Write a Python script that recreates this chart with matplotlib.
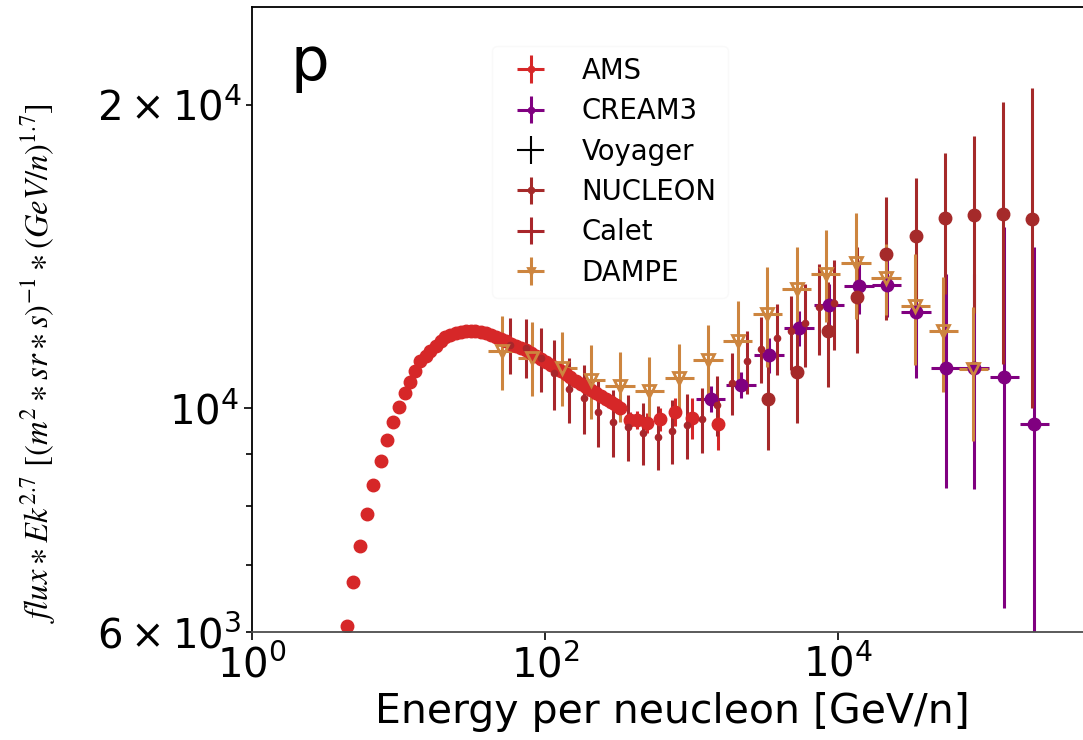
import matplotlib
matplotlib.use("Agg")
import matplotlib.pyplot as plt
from matplotlib.ticker import FixedLocator, FixedFormatter, NullLocator
import numpy as np

# values (energy in GeV/n, flux * Ek^2.7)
ams_e = [4.43, 4.91, 5.46, 6.07, 6.73, 7.56, 8.35, 9.13, 10.1, 11.0, 12.0, 13.0,
         14.1, 15.3, 16.5, 17.9, 19.4, 20.9, 22.6, 24.5, 26.5, 28.7,
         31.0, 33.5, 36.3, 39.3, 42.5, 45.9, 49.7, 53.8, 58.1, 62.9,
         68.0, 73.6, 79.6, 86.1, 93.2, 101, 109, 118, 128, 138,
         149, 162, 175, 189, 205, 221, 239, 259, 280, 303, 325,
         380, 423, 499, 610, 772, 1003, 1517]
ams_f = [6088, 6721, 7295, 7853, 8386, 8862, 9311, 9693, 10023, 10364, 10627, 10897,
         11136, 11266, 11400, 11523, 11649, 11756, 11831, 11877, 11910, 11929,
         11937, 11934, 11907, 11874, 11820, 11766, 11710, 11651, 11582, 11523,
         11482, 11426, 11346, 11271, 11200, 11118, 11037, 10962, 10885, 10808,
         10732, 10654, 10579, 10505, 10428, 10355, 10280, 10205, 10140, 10078, 10000,
         9737, 9745, 9679, 9752, 9920, 9790, 9642]
ams_err = [70, 70, 70, 75, 75, 80, 80, 85, 90, 90, 95, 95,
           100, 100, 100, 105, 105, 105, 110, 110, 110, 110,
           115, 115, 115, 115, 115, 120, 120, 120, 120, 120,
           120, 125, 125, 125, 125, 125, 130, 130, 130, 130,
           135, 135, 140, 140, 145, 150, 150, 155, 160, 165, 170,
           180, 200, 220, 260, 320, 460, 540]

cream_e = [1352, 2177, 3381, 5417, 8681, 13910, 21490, 34060, 54330, 84760, 135900, 217800]
cream_f = [10221, 10553, 11289, 12001, 12647, 13207, 13252, 12446, 10962, 10955, 10742, 9648]
cream_err = [310, 320, 450, 480, 630, 790, 930, 1740, 2630, 2630, 4400, 4820]

# Voyager points lie below 1 GeV/n, outside the plotted window
voyager_e = [0.01, 0.05, 0.2]
voyager_f = [20, 300, 2500]
voyager_err = [3, 30, 200]

nucleon_e = [3311, 5275, 8506, 13420, 21170, 33900, 53720, 85160, 132400, 211900]
nucleon_f = [10221, 10865, 11922, 12893, 14213, 14829, 15443, 15532, 15596, 15406]
nucleon_err = [1124, 1195, 1430, 1547, 1990, 2076, 2471, 3106, 4523, 5392]

calet_e = [58, 74, 94, 115, 146, 185, 231, 293, 370, 469, 593, 733, 927, 1170,
           1486, 1881, 2382, 2980, 3818, 4777, 5953, 7450, 9440]
calet_f = [11550, 11483, 11206, 10831, 10450, 10231, 9909, 9686, 9592, 9446, 9375,
           9496, 9620, 9752, 10069, 10594, 11136, 11455, 11741, 11922, 12139, 12600, 12725]
calet_err = [740, 770, 820, 860, 780, 800, 760, 730, 720, 670, 680, 690, 720, 720,
             690, 740, 800, 870, 960, 1010, 1150, 1300, 1310]

dampe_e = [51.1, 81.9, 131.3, 205, 325, 515, 826, 1291, 2067, 3290, 5226, 8241,
           13210, 21170, 33560, 52340, 83900]
dampe_f = [11394, 11225, 10971, 10666, 10531, 10402, 10708, 11164, 11659, 12397,
           13144, 13603, 13939, 13469, 12620, 11944, 10938]
dampe_err = [957, 943, 922, 896, 842, 843, 867, 938, 1131, 1413, 1301, 1415,
             1687, 1091, 1590, 1565, 1652]

half_bin = 0.1  # half width of the CREAM3 / DAMPE energy bins, in decades


def bin_xerr(e, half):
    e = np.asarray(e, dtype=float)
    return [e * (1 - 10 ** -half), e * (10 ** half - 1)]


fig = plt.figure(figsize=(10.83, 7.40), dpi=100)
ax = fig.add_axes([0.2327, 0.1459, 0.7756, 0.8446])

common = dict(linestyle="none", elinewidth=2.2, capsize=0)

ax.errorbar(ams_e, ams_f, yerr=ams_err, xerr=np.zeros(len(ams_e)), fmt="o",
            color="#d62728", ms=9, label="AMS", **common)
ax.errorbar(cream_e, cream_f, yerr=cream_err, xerr=bin_xerr(cream_e, half_bin), fmt="o",
            color="purple", ms=9, label="CREAM3", **common)
ax.errorbar(voyager_e, voyager_f, yerr=voyager_err, xerr=np.zeros(len(voyager_e)),
            fmt="none", ecolor="black", label="Voyager", elinewidth=1.5, capsize=0)
ax.errorbar(nucleon_e, nucleon_f, yerr=nucleon_err, xerr=np.zeros(len(nucleon_e)), fmt="o",
            color="brown", ms=9, label="NUCLEON", **common)
ax.errorbar(calet_e, calet_f, yerr=calet_err, xerr=np.zeros(len(calet_e)), fmt="o",
            color="#a8262b", ms=4.5, label="Calet", **common)
ax.errorbar(dampe_e, dampe_f, yerr=dampe_err, xerr=bin_xerr(dampe_e, half_bin), fmt="v",
            color="peru", mfc="none", mew=2, ms=9, label="DAMPE", **common)

ax.set_xscale("log")
ax.set_yscale("log")
ax.set_xlim(1, 5.4e5)
ax.set_ylim(6000, 25000)

ax.xaxis.set_major_locator(FixedLocator([1, 1e2, 1e4, 1e6]))
ax.xaxis.set_major_formatter(FixedFormatter([r"$10^{0}$", r"$10^{2}$", r"$10^{4}$", r"$10^{6}$"]))
ax.xaxis.set_minor_locator(NullLocator())
ax.yaxis.set_major_locator(FixedLocator([1e4]))
ax.yaxis.set_major_formatter(FixedFormatter([r"$10^{4}$"]))
ax.yaxis.set_minor_locator(FixedLocator([6000, 7000, 8000, 9000, 20000]))
ax.yaxis.set_minor_formatter(FixedFormatter([r"$6\times10^{3}$", "", "", "", r"$2\times10^{4}$"]))

ax.tick_params(which="both", labelsize=29, width=1.2)
ax.tick_params(which="major", length=6)
ax.tick_params(which="minor", length=4)
for s in ax.spines.values():
    s.set_linewidth(1.3)
ax.spines["bottom"].set_color("#4d4d4d")

ax.set_xlabel("Energy per neucleon [GeV/n]", fontsize=29.5)
ax.set_ylabel(r"$flux\ast Ek^{2.7}\ [(m^2\ast sr\ast s)^{-1}\ast(GeV/n)^{1.7}]$",
              fontsize=23.5, math_fontfamily="stix")
ax.yaxis.set_label_coords(-0.231, 0.43)

ax.text(0.046, 0.883, "p", transform=ax.transAxes, fontsize=44, va="baseline")

leg = ax.legend(loc="upper left", bbox_to_anchor=(0.286, 0.938), fontsize=19.8,
                markerscale=0.5, labelspacing=0.45, handletextpad=0.85,
                framealpha=1, fancybox=True, borderaxespad=0)
leg.get_frame().set_edgecolor("0.975")

fig.savefig("out.png", dpi=100)
